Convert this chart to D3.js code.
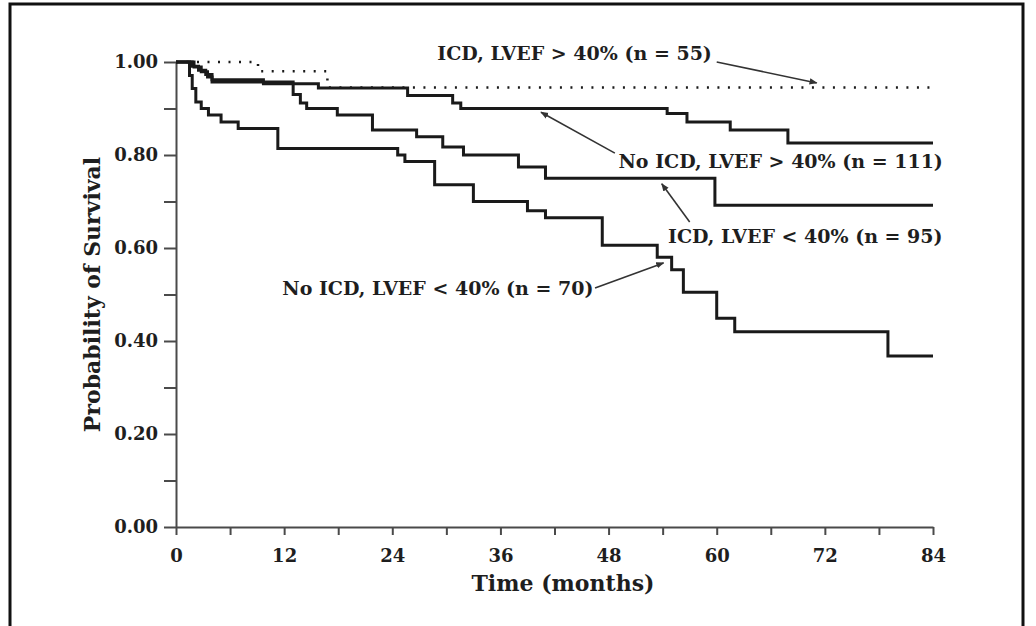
<!DOCTYPE html>
<html lang="en">
<head>
  <meta charset="UTF-8">
  <title>Probability of Survival</title>
  <script src="https://d3js.org/d3.v7.min.js"></script>
  <style>
    body {
      margin: 0;
      background: #fff;
    }
    svg text {
      font-family: "DejaVu Serif", serif;
      font-weight: bold;
      fill: #1e1e1e;
    }
    .axis path, .axis line {
      stroke: #4a4a4a;
      stroke-width: 2px;
    }
    .tick-label { font-size: 18px; }
    .axis-title { font-size: 22px; }
    .note { font-size: 19px; }
    .curve {
      fill: none;
      stroke: #1a1a1a;
      stroke-width: 3px;
    }
    .curve.dotted {
      stroke-width: 2.5px;
      stroke-dasharray: 2 8.5;
    }
    .pointer {
      stroke: #333;
      stroke-width: 1.6px;
    }
  </style>
</head>
<body>
  <div id="chart"></div>

  <script>
    // Kaplan-Meier steps (months / survival)
    const icdHighTimes = [0, 9.1, 16.8, 84];
    const icdHighSurv  = [1, 0.980, 0.945, 0.945];

    const noIcdHighTimes = [0, 1.8, 2.5, 3.3, 4.0, 9.7, 15.8, 25.7, 30.7, 31.6, 54.5, 56.7, 61.5, 67.9, 84];
    const noIcdHighSurv  = [1, 0.991, 0.982, 0.973, 0.962, 0.953, 0.944, 0.928, 0.912, 0.900, 0.889, 0.871, 0.854, 0.826, 0.826];

    const icdLowTimes = [0, 2.0, 2.8, 3.5, 4.0, 13.0, 13.8, 14.5, 17.9, 21.8, 26.7, 29.6, 31.9, 38.0, 41.0, 59.8, 84];
    const icdLowSurv  = [1, 0.989, 0.979, 0.968, 0.957, 0.930, 0.912, 0.900, 0.886, 0.854, 0.839, 0.817, 0.800, 0.774, 0.750, 0.692, 0.692];

    const noIcdLowTimes = [0, 1.5, 1.8, 2.2, 2.8, 3.6, 5.0, 6.9, 11.3, 24.6, 25.4, 28.7, 33.0, 39.0, 41.0, 47.3, 53.4, 55.0, 56.3, 60.0, 62.0, 79.0, 84];
    const noIcdLowSurv  = [1, 0.971, 0.943, 0.914, 0.900, 0.886, 0.871, 0.857, 0.814, 0.800, 0.786, 0.736, 0.700, 0.680, 0.665, 0.606, 0.580, 0.553, 0.505, 0.449, 0.420, 0.368, 0.368];

    const xTickValues = [0, 12, 24, 36, 48, 60, 72, 84];
    const xMinorTicks = d3.range(0, 85, 6);
    const yTickValues = [0, 0.2, 0.4, 0.6, 0.8, 1.0];
    const yMinorTicks = d3.range(0, 1.01, 0.1);

    const noteLabels = [
      "ICD, LVEF > 40% (n = 55)",
      "No ICD, LVEF > 40% (n = 111)",
      "ICD, LVEF < 40% (n = 95)",
      "No ICD, LVEF < 40% (n = 70)"
    ];

    const width = 1036, height = 626;
    const plot = { left: 176, right: 933, top: 62, bottom: 527 };

    const svg = d3.select("#chart").append("svg")
      .attr("width", width)
      .attr("height", height);

    // page frame
    svg.append("path")
      .attr("d", `M10,${height} V4 H1023 V${height}`)
      .attr("fill", "none")
      .attr("stroke", "#111")
      .attr("stroke-width", 3);

    const x = d3.scaleLinear().domain([0, 84]).range([plot.left, plot.right]);
    const y = d3.scaleLinear().domain([0, 1]).range([plot.bottom, plot.top]);

    // x axis: minor ticks first, then labelled ones
    svg.append("g")
      .attr("class", "axis")
      .attr("transform", `translate(0,${plot.bottom})`)
      .call(d3.axisBottom(x).tickValues(xMinorTicks).tickSize(8).tickFormat("").tickSizeOuter(0));

    const xAxis = svg.append("g")
      .attr("transform", `translate(0,${plot.bottom})`)
      .call(d3.axisBottom(x).tickValues(xTickValues).tickSize(0).tickPadding(22).tickFormat(d3.format("d")));
    xAxis.select(".domain").remove();
    xAxis.selectAll("text").attr("class", "tick-label").attr("fill", null);

    // y axis, the zero tick runs on into the x axis
    svg.append("g")
      .attr("class", "axis")
      .attr("transform", `translate(${plot.left},0)`)
      .call(d3.axisLeft(y).tickValues(yMinorTicks).tickSize(12).tickFormat("").tickSizeOuter(0));

    const yAxis = svg.append("g")
      .attr("transform", `translate(${plot.left},0)`)
      .call(d3.axisLeft(y).tickValues(yTickValues).tickSize(0).tickPadding(18).tickFormat(d3.format(".2f")));
    yAxis.select(".domain").remove();
    yAxis.selectAll("text").attr("class", "tick-label").attr("fill", null);

    svg.append("text")
      .attr("class", "axis-title")
      .attr("x", 563)
      .attr("y", 591)
      .attr("text-anchor", "middle")
      .text("Time (months)");

    svg.append("text")
      .attr("class", "axis-title")
      .attr("transform", `translate(100,${(plot.top + plot.bottom) / 2}) rotate(-90)`)
      .attr("text-anchor", "middle")
      .text("Probability of Survival");

    // survival curves
    const line = d3.line()
      .x(d => x(d[0]))
      .y(d => y(d[1]))
      .curve(d3.curveStepAfter);

    const series = [
      { times: noIcdLowTimes, surv: noIcdLowSurv, dotted: false },
      { times: icdLowTimes, surv: icdLowSurv, dotted: false },
      { times: noIcdHighTimes, surv: noIcdHighSurv, dotted: false },
      { times: icdHighTimes, surv: icdHighSurv, dotted: true }
    ];

    svg.selectAll(".curve")
      .data(series)
      .enter()
      .append("path")
      .attr("class", d => d.dotted ? "curve dotted" : "curve")
      .attr("d", d => line(d.times.map((t, i) => [t, d.surv[i]])));

    // labels with pointers, positions in data units
    const notes = [
      { text: noteLabels[0], at: [29.0, 1.005], from: [60.0, 1.0], to: [71.1, 0.955] },
      { text: noteLabels[1], at: [49.1, 0.772], from: [48.7, 0.804], to: [40.5, 0.892] },
      { text: noteLabels[2], at: [54.6, 0.611], from: [57.0, 0.656], to: [53.9, 0.738] },
      { text: noteLabels[3], at: [11.8, 0.499], from: [46.5, 0.514], to: [54.1, 0.568] }
    ];

    svg.append("defs").append("marker")
      .attr("id", "head")
      .attr("viewBox", "0 0 10 10")
      .attr("refX", 9)
      .attr("refY", 5)
      .attr("markerWidth", 5)
      .attr("markerHeight", 5)
      .attr("orient", "auto")
      .append("path")
      .attr("d", "M0,1 L10,5 L0,9 Z")
      .attr("fill", "#333");

    svg.selectAll(".pointer")
      .data(notes)
      .enter()
      .append("line")
      .attr("class", "pointer")
      .attr("x1", d => x(d.from[0]))
      .attr("y1", d => y(d.from[1]))
      .attr("x2", d => x(d.to[0]))
      .attr("y2", d => y(d.to[1]))
      .attr("marker-end", "url(#head)");

    svg.selectAll(".note")
      .data(notes)
      .enter()
      .append("text")
      .attr("class", "note")
      .attr("x", d => x(d.at[0]))
      .attr("y", d => y(d.at[1]))
      .text(d => d.text);
  </script>
</body>
</html>
